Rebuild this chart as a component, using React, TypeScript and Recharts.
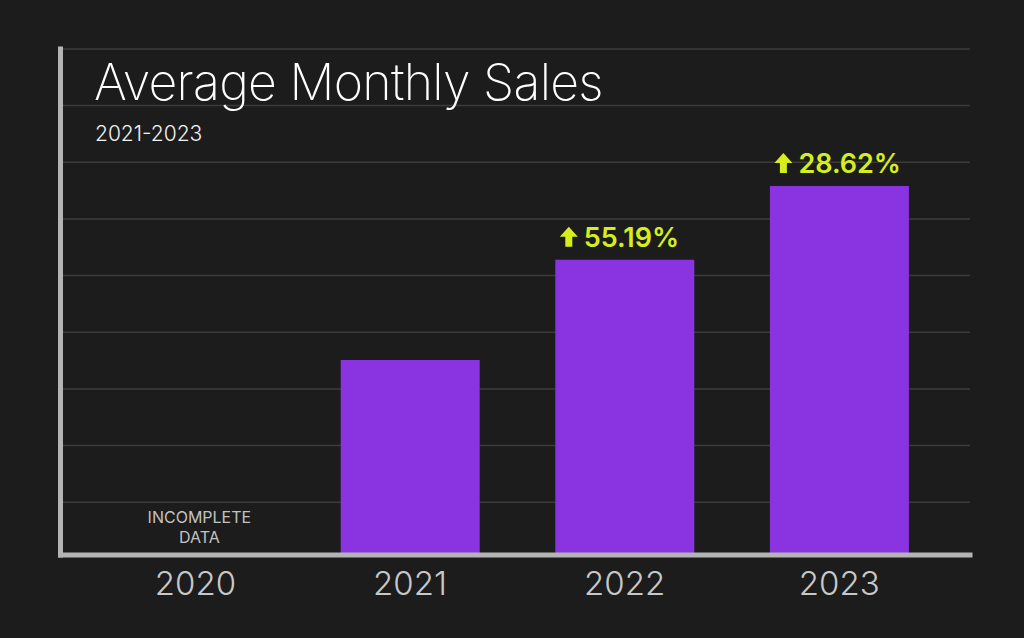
import { Bar, BarChart, CartesianGrid, LabelList, XAxis, YAxis } from "recharts";

// Average monthly sales per year, in grid units (one grid step = 10).
const YEARS = ["2020", "2021", "2022", "2023"];
const SALES: (number | null)[] = [null, 34.4, 52.1, 65.1];
const GROWTH_LABELS = ["", "", "55.19%", "28.62%"];
const YEAR_NOTES: string[][] = [["INCOMPLETE", "DATA"], [], [], []];
const GRID_TICKS = [9.3, 19.3, 29.3, 39.3, 49.3, 59.3, 69.3, 79.3, 89.3];

const BG = "#1c1c1c";
const BAR_COLOR = "#8a33e0";
const ACCENT = "#d5ee1c";
const AXIS_COLOR = "#b4b4b4";
const GRID_COLOR = "#3b3b3b";
const FONT = "Inter, 'Noto Sans', sans-serif";

const data = YEARS.map((year, i) => ({
  year,
  sales: SALES[i],
  growth: GROWTH_LABELS[i],
}));

function YearTick(props: any) {
  const { x, y, payload } = props;
  const note = YEAR_NOTES[YEARS.indexOf(payload.value)] ?? [];
  return (
    <g>
      {note.map((line, i) => (
        <text
          key={line}
          x={x + 4}
          y={y - 32 + i * 20}
          textAnchor="middle"
          fill="#c2c2c2"
          fontFamily={FONT}
          fontSize={16}
          fontWeight={400}
        >
          {line}
        </text>
      ))}
      <text
        x={x}
        y={y + 40}
        textAnchor="middle"
        fill="#c8c8c8"
        fontFamily={FONT}
        fontSize={33}
        fontWeight={300}
      >
        {payload.value}
      </text>
    </g>
  );
}

// y ticks only feed the grid, nothing is drawn for them
function NoTick() {
  return <g />;
}

function GrowthLabel(props: any) {
  const { x, y, value } = props;
  if (!value) return null;
  const ax = x + 4.5;
  const top = y - 33;
  const arrow = `M${ax + 9},${top} L${ax + 18},${top + 10} L${ax + 12.5},${top + 10} L${ax + 12.5},${top + 20} L${ax + 5.5},${top + 20} L${ax + 5.5},${top + 10} L${ax},${top + 10} Z`;
  return (
    <g>
      <path d={arrow} fill={ACCENT} />
      <text
        x={ax + 24}
        y={y - 13}
        fill={ACCENT}
        fontFamily={FONT}
        fontSize={27}
        fontWeight={600}
      >
        {value}
      </text>
    </g>
  );
}

export default function App() {
  return (
    <div
      style={{
        position: "absolute",
        left: 0,
        top: 0,
        width: 1024,
        height: 638,
        background: BG,
        overflow: "hidden",
      }}
    >
      <BarChart
        width={1024}
        height={638}
        data={data}
        margin={{ top: 48.9, right: 54, bottom: 53, left: 59.5 }}
      >
        <CartesianGrid vertical={false} stroke={GRID_COLOR} strokeWidth={1.5} />
        <YAxis
          width={1}
          domain={[0, 89.3]}
          ticks={GRID_TICKS}
          tick={<NoTick />}
          tickLine={false}
          axisLine={{ stroke: AXIS_COLOR, strokeWidth: 5, strokeLinecap: "square" }}
        />
        <XAxis
          dataKey="year"
          padding={{ left: 27.6, right: 23.5 }}
          tickLine={false}
          tickSize={0}
          tickMargin={0}
          interval={0}
          tick={<YearTick />}
          axisLine={{ stroke: AXIS_COLOR, strokeWidth: 5, strokeLinecap: "square" }}
        />
        <Bar dataKey="sales" fill={BAR_COLOR} barSize={139} isAnimationActive={false}>
          <LabelList dataKey="growth" content={<GrowthLabel />} />
        </Bar>
      </BarChart>
      <svg
        width={1024}
        height={638}
        style={{ position: "absolute", left: 0, top: 0, pointerEvents: "none" }}
      >
        <text
          x={94}
          y={100}
          fill="#ffffff"
          fontFamily={FONT}
          fontSize={50}
          fontWeight={200}
          letterSpacing={-0.7}
        >
          Average Monthly Sales
        </text>
        <text x={95} y={141} fill="#f2f2f2" fontFamily={FONT} fontSize={21} fontWeight={300}>
          2021-2023
        </text>
      </svg>
    </div>
  );
}
